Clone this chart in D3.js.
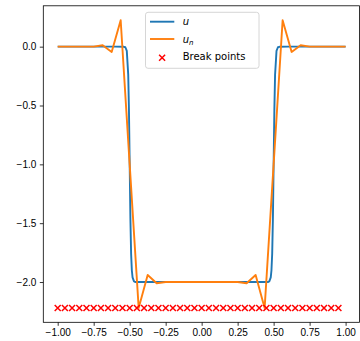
<!DOCTYPE html>
<html>
<head>
<meta charset="utf-8">
<script src="https://cdn.jsdelivr.net/npm/d3@7"></script>
<style>
    body { margin: 0; background: #fff; }
    svg { display: block; font-family: "DejaVu Sans", sans-serif; }
    .tick text { font-size: 10px; fill: #000; }
</style>
</head>
<body>
<div id="chart"></div>
<script>
// Exact solution u (dense near the two jumps)
const uX = [-1, -0.6, -0.54, -0.53, -0.52, -0.51, -0.505, -0.5, -0.495, -0.49, -0.485, -0.48, -0.47, -0.46,
            0.46, 0.47, 0.48, 0.485, 0.49, 0.495, 0.5, 0.505, 0.51, 0.52, 0.53, 0.54, 0.6, 1];
const uY = [0, 0, -0.001, -0.005, -0.036, -0.24, -0.54, -1.0, -1.46, -1.76, -1.9, -1.96, -1.995, -2.0,
            -2.0, -1.995, -1.96, -1.9, -1.76, -1.46, -1.0, -0.54, -0.24, -0.036, -0.005, -0.001, 0, 0];

// Approximation u_n at nodes spaced 1/16
const unX = [-1, -0.9375, -0.875, -0.8125, -0.75, -0.6875, -0.625, -0.5625, -0.5, -0.4375, -0.375, -0.3125,
             -0.25, -0.1875, -0.125, -0.0625, 0, 0.0625, 0.125, 0.1875, 0.25,
             0.3125, 0.375, 0.4375, 0.5, 0.5625, 0.625, 0.6875, 0.75, 0.8125, 0.875, 0.9375, 1];
const unY = [0, 0, 0, 0, 0, 0.012, -0.045, 0.225, -1.0, -2.22, -1.94, -2.01,
             -2.0, -2.0, -2.0, -2.0, -2.0, -2.0, -2.0, -2.0, -2.0,
             -2.01, -1.94, -2.22, -1.0, 0.225, -0.045, 0.012, 0, 0, 0, 0, 0];

// Break points, step 0.05, drawn at the level of min(u_n)
const breakX = [-1, -0.95, -0.9, -0.85, -0.8, -0.75, -0.7, -0.65, -0.6, -0.55, -0.5, -0.45, -0.4, -0.35,
                -0.3, -0.25, -0.2, -0.15, -0.1, -0.05, 0, 0.05, 0.1, 0.15, 0.2, 0.25, 0.3, 0.35, 0.4,
                0.45, 0.5, 0.55, 0.6, 0.65, 0.7, 0.75, 0.8, 0.85, 0.9, 0.95];
const breakLevel = -2.22;

const xTicks = [-1, -0.75, -0.5, -0.25, 0, 0.25, 0.5, 0.75, 1];
const yTicks = [0, -0.5, -1, -1.5, -2];

const width = 360, height = 341;
const margin = { top: 5.8, right: 0, bottom: 18.7, left: 43.3 };

function padded(ext) {
    const r = ext[1] - ext[0];
    return [ext[0] - 0.05 * r, ext[1] + 0.05 * r];
}

function draw() {
    const svg = d3.select('#chart').append('svg')
        .attr('width', width)
        .attr('height', height);

    const allX = uX.concat(unX, breakX);
    const allY = uY.concat(unY, [breakLevel]);

    const x = d3.scaleLinear()
        .domain(padded(d3.extent(allX)))
        .range([margin.left, width - margin.right]);
    const y = d3.scaleLinear()
        .domain(padded(d3.extent(allY)))
        .range([height - margin.bottom, margin.top]);

    const fmtMinus = s => s.replace('-', '\u2212');

    // axes
    const xAxis = svg.append('g')
        .attr('transform', `translate(0,${height - margin.bottom})`)
        .call(d3.axisBottom(x).tickValues(xTicks).tickSize(3.5).tickPadding(3.5)
            .tickFormat(d => fmtMinus(d3.format('.2f')(d))));
    const yAxis = svg.append('g')
        .attr('transform', `translate(${margin.left},0)`)
        .call(d3.axisLeft(y).tickValues(yTicks).tickSize(3.5).tickPadding(3.5)
            .tickFormat(d => fmtMinus(d3.format('.1f')(d))));
    [xAxis, yAxis].forEach(a => {
        a.select('.domain').remove();
        a.selectAll('.tick line').attr('stroke', '#000').attr('stroke-width', 0.8);
    });

    // frame
    svg.append('rect')
        .attr('x', margin.left)
        .attr('y', margin.top)
        .attr('width', width - margin.right - margin.left - 0.5)
        .attr('height', height - margin.bottom - margin.top)
        .attr('fill', 'none')
        .attr('stroke', '#000')
        .attr('stroke-width', 0.8);

    const line = d3.line().x(d => x(d[0])).y(d => y(d[1]));

    svg.append('path')
        .datum(d3.zip(uX, uY))
        .attr('d', line)
        .attr('fill', 'none')
        .attr('stroke', '#1f77b4')
        .attr('stroke-width', 1.9)
        .attr('stroke-linejoin', 'round');

    svg.append('path')
        .datum(d3.zip(unX, unY))
        .attr('d', line)
        .attr('fill', 'none')
        .attr('stroke', '#ff7f0e')
        .attr('stroke-width', 1.9)
        .attr('stroke-linejoin', 'round');

    const cross = d3.symbol().type(d3.symbolX).size(36);
    svg.append('g')
        .selectAll('path')
        .data(breakX)
        .join('path')
        .attr('transform', d => `translate(${x(d)},${y(breakLevel)}) rotate(0)`)
        .attr('d', 'M-3,-3L3,3M-3,3L3,-3')
        .attr('stroke', '#ff0000')
        .attr('stroke-width', 1.5)
        .attr('fill', 'none');

    // legend
    const lg = svg.append('g').attr('transform', 'translate(145.5,12.3)');
    lg.append('rect')
        .attr('width', 113.5)
        .attr('height', 56)
        .attr('rx', 2.5)
        .attr('fill', 'rgba(255,255,255,0.8)')
        .attr('stroke', '#cccccc')
        .attr('stroke-width', 0.8);

    const items = [
        { label: 'u', sub: null, color: '#1f77b4', kind: 'line' },
        { label: 'u', sub: 'n', color: '#ff7f0e', kind: 'line' },
        { label: 'Break points', sub: null, color: '#ff0000', kind: 'cross' }
    ];
    items.forEach((it, i) => {
        const cy = 9.4 + i * 17.3;
        if (it.kind === 'line') {
            lg.append('line')
                .attr('x1', 4.5).attr('x2', 28.8)
                .attr('y1', cy).attr('y2', cy)
                .attr('stroke', it.color)
                .attr('stroke-width', 1.9);
        } else {
            lg.append('path')
                .attr('transform', `translate(16.6,${cy + 1.5})`)
                .attr('d', 'M-3,-3L3,3M-3,3L3,-3')
                .attr('stroke', it.color)
                .attr('stroke-width', 1.5);
        }
        const t = lg.append('text')
            .attr('x', 37.2)
            .attr('y', cy + 3.7)
            .attr('font-size', 10)
            .attr('fill', '#000');
        if (it.kind === 'line') {
            t.append('tspan').attr('font-style', 'italic').text(it.label);
            if (it.sub) {
                t.append('tspan')
                    .attr('font-style', 'italic')
                    .attr('font-size', 7)
                    .attr('dy', 2)
                    .text(it.sub);
            }
        } else {
            t.text(it.label);
        }
    });
}

draw();
</script>
</body>
</html>
